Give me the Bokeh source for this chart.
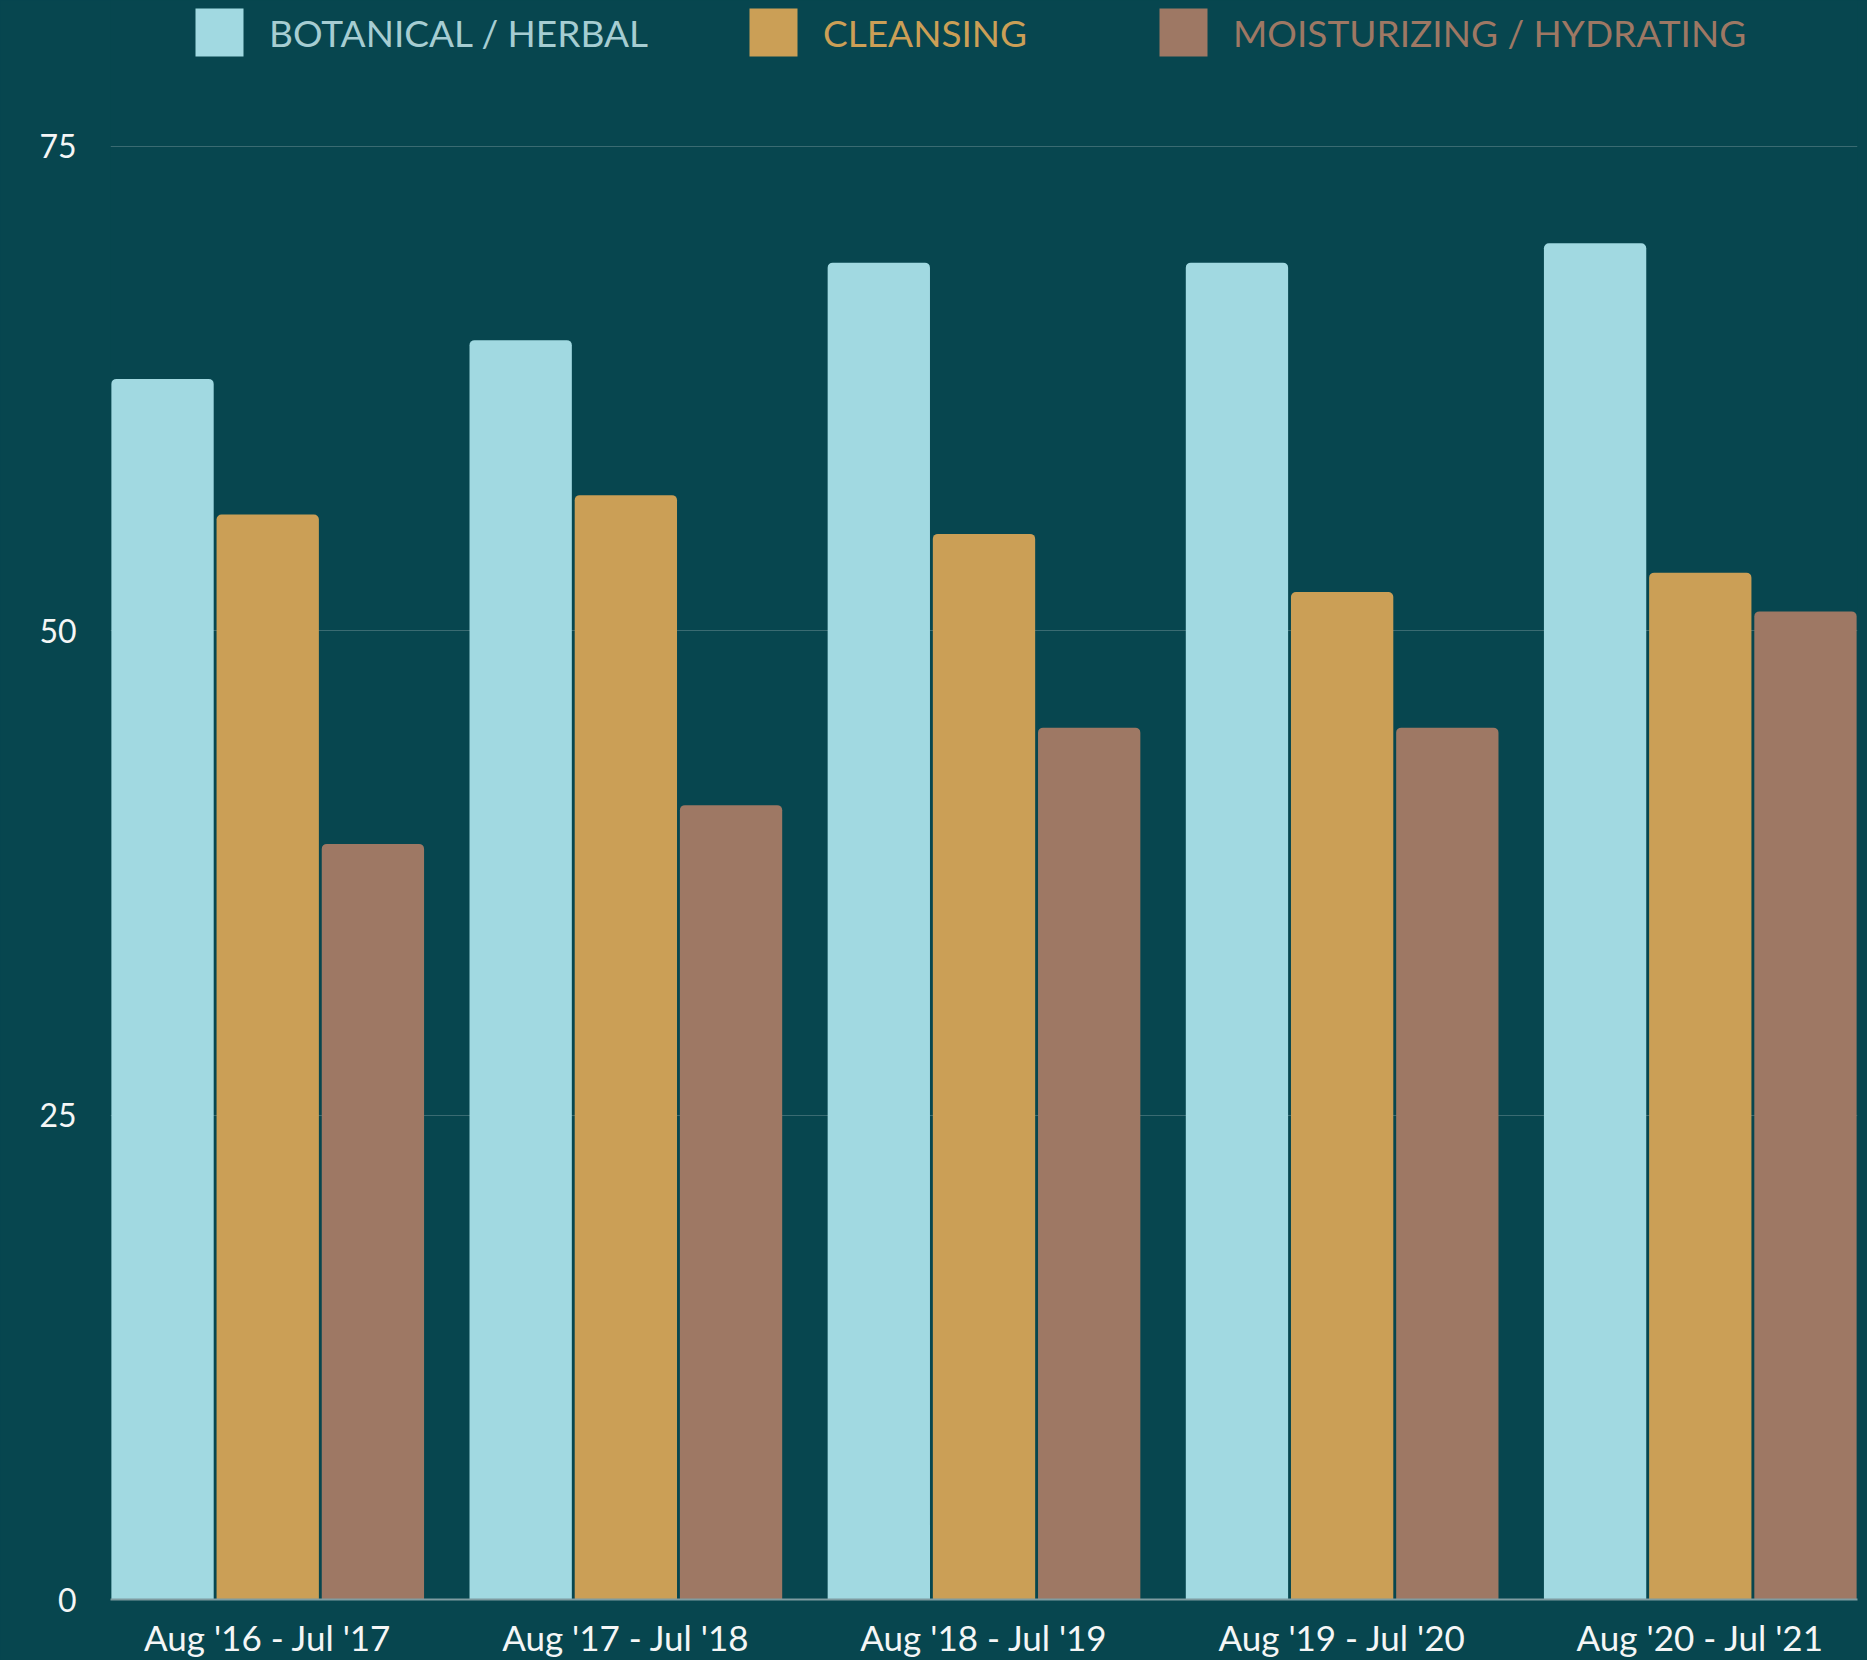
from bokeh.plotting import figure
from bokeh.models import ColumnDataSource, Range1d, FixedTicker, Legend, LegendItem
from bokeh.transform import dodge
from bokeh.embed import file_html
from bokeh.resources import INLINE

periods = ["Aug '16 - Jul '17", "Aug '17 - Jul '18", "Aug '18 - Jul '19", "Aug '19 - Jul '20", "Aug '20 - Jul '21"]
botanical = [63, 65, 69, 69, 70]
cleansing = [56, 57, 55, 52, 53]
moisturizing = [39, 41, 45, 45, 51]
series_names = ["BOTANICAL / HERBAL", "CLEANSING", "MOISTURIZING / HYDRATING"]
y_ticks = [0, 25, 50, 75]

BG = "#07464f"
bar_colors = ["#a1d9e1", "#cb9f56", "#9e7864"]
label_colors = ["#a6cdd2", "#cb9f56", "#9e7864"]
FONT = "Lato"

xs = list(range(len(periods)))
src = ColumnDataSource(dict(x=xs, b=botanical, c=cleansing, m=moisturizing))

p = figure(width=1867, height=1660, output_backend="svg", toolbar_location=None,
           x_range=Range1d(-0.439, len(periods) - 1 + 0.439),
           y_range=Range1d(0, 82.53),
           min_border_left=110, min_border_right=10, min_border_top=0, min_border_bottom=59)
p.background_fill_color = BG
p.border_fill_color = BG
p.outline_line_color = None

slot = 0.2937
bw = 0.2857
renderers = []
for i, (col, color) in enumerate(zip(["b", "c", "m"], bar_colors)):
    r = p.vbar(x=dodge("x", (i - 1) * slot, range=p.x_range), top=col, width=bw, bottom=0,
               source=src, fill_color=color, line_color=None, border_radius=(5, 5, 0, 0))
    renderers.append(r)

# axes
p.xaxis.ticker = FixedTicker(ticks=xs)
p.xaxis.major_label_overrides = {i: s for i, s in enumerate(periods)}
p.xaxis.major_label_text_font = FONT
p.xaxis.major_label_text_font_size = "35px"
p.xaxis.major_label_text_color = "#f4f6f6"
p.xaxis.major_label_standoff = 10
p.xaxis.major_tick_line_color = None
p.xaxis.minor_tick_line_color = None
p.xaxis.axis_line_color = "#7f9ca1"
p.xaxis.axis_line_width = 2

p.yaxis.ticker = FixedTicker(ticks=y_ticks)
p.yaxis.major_label_text_font = FONT
p.yaxis.major_label_text_font_size = "32px"
p.yaxis.major_label_text_color = "#f4f6f6"
p.yaxis.major_label_standoff = 28
p.yaxis.major_tick_line_color = None
p.yaxis.minor_tick_line_color = None
p.yaxis.axis_line_color = None

p.xgrid.grid_line_color = None
p.ygrid.grid_line_color = "#3a6b72"
p.ygrid.grid_line_width = 1

# legends (one per series, so each label keeps its own colour)
legend_x = [79, 633, 1043]
for name, r, lc, lx in zip(series_names, renderers, label_colors, legend_x):
    lg = Legend(items=[LegendItem(label=name, renderers=[r])], location=(lx, 1537),
                orientation="horizontal", padding=0, margin=0,
                glyph_width=60, glyph_height=60, label_standoff=20,
                label_text_font=FONT, label_text_font_size="37px", label_text_color=lc,
                border_line_alpha=0, background_fill_alpha=0)
    p.add_layout(lg, "center")

html = file_html(p, INLINE)
html = html.replace("<head>", "<head><style>html,body{margin:0;padding:0;background:#07464f;}</style>", 1)
open("out.html", "w").write(html)
